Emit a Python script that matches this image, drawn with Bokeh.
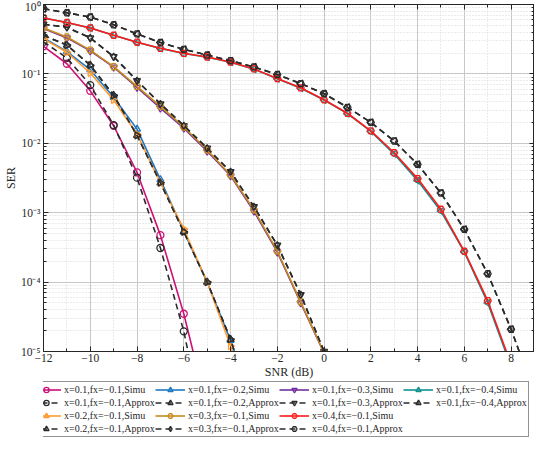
import numpy as np
from bokeh.plotting import figure
from bokeh.layouts import column
from bokeh.models import (Legend, LegendItem, LinearAxis, LogAxis, FixedTicker, Range1d)
from bokeh.embed import file_html
from bokeh.resources import INLINE

# ---------------- data ----------------
snr_g1 = [-12, -11, -10, -9, -8, -7, -6, -5]
sim_x01_fx01 = [0.25, 0.14, 0.057, 0.0179, 0.0038, 4.75e-4, 3.5e-5, 1.5e-6]
app_x01_fx01 = [0.29, 0.17, 0.069, 0.0183, 0.0032, 3.1e-4, 1.95e-5, 5e-7]

snr_g2 = [-12, -11, -10, -9, -8, -7, -6, -5, -4, -3]
sim_x01_fx02 = [0.33, 0.21, 0.115, 0.046, 0.016, 0.0030, 5.4e-4, 1.0e-4, 1.45e-5, 1.5e-6]
app_x01_fx02 = [0.36, 0.26, 0.134, 0.049, 0.013, 0.0027, 5.3e-4, 1.0e-4, 1.5e-5, 1.3e-6]
sim_x02_fx01 = [0.32, 0.205, 0.103, 0.042, 0.0136, 0.0027, 5.8e-4, 1.0e-4, 1.2e-5, 1.2e-6]
app_x02_fx01 = [0.36, 0.26, 0.133, 0.049, 0.013, 0.0027, 5.3e-4, 1.0e-4, 1.5e-5, 1.3e-6]

snr_g3 = [-12, -11, -10, -9, -8, -7, -6, -5, -4, -3, -2, -1, 0, 1]
sim_x01_fx03 = [0.45, 0.33, 0.215, 0.125, 0.064, 0.032, 0.0165, 0.0077, 0.0034, 1.05e-3, 2.7e-4, 5.0e-5, 9.5e-6, 1.1e-6]
app_x01_fx03 = [0.52, 0.47, 0.33, 0.177, 0.08, 0.037, 0.018, 0.0085, 0.0039, 1.22e-3, 3.4e-4, 6.6e-5, 1.0e-5, 1.0e-6]
sim_x03_fx01 = [0.46, 0.34, 0.22, 0.127, 0.066, 0.034, 0.0172, 0.0080, 0.0035, 1.1e-3, 2.8e-4, 5.2e-5, 9.5e-6, 1.2e-6]
app_x03_fx01 = [0.52, 0.47, 0.33, 0.177, 0.08, 0.037, 0.018, 0.0085, 0.0039, 1.22e-3, 3.4e-4, 6.6e-5, 1.0e-5, 1.0e-6]

snr_g4 = [-12, -11, -10, -9, -8, -7, -6, -5, -4, -3, -2, -1, 0, 1, 2, 3, 4, 5, 6, 7, 8, 9]
sim_x01_fx04 = [0.64, 0.55, 0.46, 0.36, 0.285, 0.233, 0.197, 0.174, 0.147, 0.117, 0.085, 0.062, 0.042, 0.0268, 0.0148, 0.0070, 0.0029, 1.05e-3, 2.7e-4, 5.0e-5, 6.0e-6, 4e-7]
app_x01_fx04 = [0.87, 0.76, 0.66, 0.51, 0.378, 0.283, 0.226, 0.187, 0.155, 0.126, 0.098, 0.0725, 0.0519, 0.033, 0.020, 0.0108, 0.00497, 1.92e-3, 5.75e-4, 1.32e-4, 2.09e-5, 2.5e-6]
sim_x04_fx01 = [0.64, 0.55, 0.46, 0.36, 0.286, 0.234, 0.198, 0.175, 0.148, 0.118, 0.086, 0.063, 0.0424, 0.0271, 0.0151, 0.0073, 0.0031, 1.12e-3, 2.78e-4, 5.4e-5, 6.5e-6, 4e-7]
app_x04_fx01 = [0.87, 0.76, 0.66, 0.51, 0.378, 0.283, 0.226, 0.187, 0.155, 0.126, 0.098, 0.0725, 0.0519, 0.033, 0.020, 0.0108, 0.00497, 1.92e-3, 5.75e-4, 1.32e-4, 2.09e-5, 2.5e-6]

x_ticks = [-12, -10, -8, -6, -4, -2, 0, 2, 4, 6, 8]
x_tick_labels = ["−12", "−10", "−8", "−6", "−4", "−2", "0", "2", "4", "6", "8"]
y_ticks = [1e-5, 1e-4, 1e-3, 1e-2, 1e-1, 1.0]
y_tick_labels = ["10⁻⁵", "10⁻⁴", "10⁻³", "10⁻²", "10⁻¹", "10⁰"]

FONT = "Liberation Serif"
APPROX_COLOR = "#2b2b2b"
C1 = "#CC1177"
C2 = "#1F78C4"
C3 = "#7030A0"
C4 = "#119290"
C5 = "#FF9A30"
C6 = "#C88A1E"
C7 = "#FF1A1A"

p = figure(width=534, height=381, y_axis_type="log",
           x_range=Range1d(-12, 9), y_range=Range1d(1e-5, 1),
           output_backend="svg", toolbar_location=None,
           min_border_left=0, min_border_right=0, min_border_top=4, min_border_bottom=0)
p.background_fill_color = "white"
p.border_fill_color = "white"
p.outline_line_color = "#262626"
p.outline_line_width = 1

xt = FixedTicker(ticks=x_ticks, minor_ticks=list(range(-11, 10, 2)))
minor_y = [k * 10.0 ** n for n in range(-5, 0) for k in range(2, 10)]
yt = FixedTicker(ticks=y_ticks, minor_ticks=minor_y)
p.xaxis.ticker = xt
p.yaxis.ticker = yt
p.xgrid.ticker = xt
p.ygrid.ticker = yt
p.xaxis.major_label_overrides = dict(zip(x_ticks, x_tick_labels))
p.yaxis.major_label_overrides = dict(zip(y_ticks, y_tick_labels))

for g in (p.xgrid, p.ygrid):
    g.grid_line_color = "#c8c8c8"
    g.grid_line_width = 1
    g.minor_grid_line_color = "#d6d6d6"
    g.minor_grid_line_dash = "1 2"
    g.minor_grid_line_width = 1

for ax in (p.xaxis[0], p.yaxis[0]):
    ax.axis_line_color = "#262626"
    ax.major_tick_line_color = "#262626"
    ax.minor_tick_line_color = "#262626"
    ax.major_tick_in = 5
    ax.major_tick_out = 0
    ax.minor_tick_in = 3
    ax.minor_tick_out = 0
    ax.major_label_text_font = FONT
    ax.major_label_text_font_size = "11.5px"
    ax.major_label_text_color = "#262626"
    ax.axis_label_text_font = FONT
    ax.axis_label_text_font_size = "12px"
    ax.axis_label_text_font_style = "normal"
    ax.axis_label_text_color = "#262626"
    ax.axis_label_standoff = 0
    ax.major_label_standoff = 3

p.xaxis.axis_label = "SNR (dB)"
p.yaxis.axis_label = "SER"
p.xaxis.major_label_standoff = 2

top_axis = LinearAxis(ticker=xt, major_label_overrides={t: "" for t in x_ticks},
                      major_label_standoff=3,
                      major_tick_in=5, major_tick_out=0, minor_tick_in=3, minor_tick_out=0,
                      axis_line_color="#262626", major_tick_line_color="#262626",
                      minor_tick_line_color="#262626")
right_axis = LogAxis(ticker=yt, major_label_overrides={t: "" for t in y_ticks},
                     major_label_standoff=0,
                     major_tick_in=5, major_tick_out=0, minor_tick_in=3, minor_tick_out=0,
                     axis_line_color="#262626", major_tick_line_color="#262626",
                     minor_tick_line_color="#262626")
p.add_layout(top_axis, "above")
p.add_layout(right_axis, "right")

# legend holder figure (its glyphs lie outside its visible range)
q = figure(width=534, height=56, x_range=Range1d(100, 101), y_range=Range1d(100, 101),
           output_backend="svg", toolbar_location=None,
           x_axis_location=None, y_axis_location=None,
           min_border_left=0, min_border_right=0, min_border_top=0, min_border_bottom=0)
q.grid.visible = False
q.outline_line_color = None


def series(fig, xs, ys, color, marker, angle=0.0, dashed=False):
    lw = 1.6
    if dashed:
        r1 = fig.line(xs, ys, line_color=color, line_width=lw, line_dash="6 4")
    else:
        r1 = fig.line(xs, ys, line_color=color, line_width=lw)
    r2 = fig.scatter(xs, ys, marker=marker, angle=angle, size=7, fill_color=None,
                     line_color=color, line_width=1.3)
    return [r1, r2]


specs = [
    ("x=0.1,fx=−0.1,Simu", snr_g1, sim_x01_fx01, C1, "circle", 0.0, False),
    ("x=0.1,fx=−0.1,Approx", snr_g1, app_x01_fx01, APPROX_COLOR, "circle", 0.0, True),
    ("x=0.1,fx=−0.2,Simu", snr_g2, sim_x01_fx02, C2, "triangle", 0.0, False),
    ("x=0.1,fx=−0.2,Approx", snr_g2, app_x01_fx02, APPROX_COLOR, "triangle", 0.0, True),
    ("x=0.1,fx=−0.3,Simu", snr_g3, sim_x01_fx03, C3, "inverted_triangle", 0.0, False),
    ("x=0.1,fx=−0.3,Approx", snr_g3, app_x01_fx03, APPROX_COLOR, "inverted_triangle", 0.0, True),
    ("x=0.1,fx=−0.4,Simu", snr_g4, sim_x01_fx04, C4, "triangle", np.pi / 2, False),
    ("x=0.1,fx=−0.4,Approx", snr_g4, app_x01_fx04, APPROX_COLOR, "triangle", np.pi / 2, True),
    ("x=0.2,fx=−0.1,Simu", snr_g2, sim_x02_fx01, C5, "triangle", -np.pi / 2, False),
    ("x=0.2,fx=−0.1,Approx", snr_g2, app_x02_fx01, APPROX_COLOR, "triangle", -np.pi / 2, True),
    ("x=0.3,fx=−0.1,Simu", snr_g3, sim_x03_fx01, C6, "hex", 0.0, False),
    ("x=0.3,fx=−0.1,Approx", snr_g3, app_x03_fx01, APPROX_COLOR, "diamond", 0.0, True),
    ("x=0.4,fx=−0.1,Simu", snr_g4, sim_x04_fx01, C7, "hex", 0.0, False),
    ("x=0.4,fx=−0.1,Approx", snr_g4, app_x04_fx01, APPROX_COLOR, "hex", 0.0, True),
]

legend_renderers = {}
for label, xs, ys, color, marker, angle, dashed in specs:
    series(p, xs, ys, color, marker, angle, dashed)
    legend_renderers[label] = series(q, xs, ys, color, marker, angle, dashed)

# column-major order: 4 rows per column
legend_order = [
    "x=0.1,fx=−0.1,Simu", "x=0.1,fx=−0.1,Approx", "x=0.2,fx=−0.1,Simu", "x=0.2,fx=−0.1,Approx",
    "x=0.1,fx=−0.2,Simu", "x=0.1,fx=−0.2,Approx", "x=0.3,fx=−0.1,Simu", "x=0.3,fx=−0.1,Approx",
    "x=0.1,fx=−0.3,Simu", "x=0.1,fx=−0.3,Approx", "x=0.4,fx=−0.1,Simu", "x=0.4,fx=−0.1,Approx",
    "x=0.1,fx=−0.4,Simu", "x=0.1,fx=−0.4,Approx",
]
items = [LegendItem(label=lab, renderers=legend_renderers[lab]) for lab in legend_order]
legend = Legend(items=items, orientation="vertical", ncols=4, location=(-14, 0),
                label_text_font=FONT, label_text_font_size="10px", label_text_color="#262626",
                glyph_width=30, glyph_height=13, label_height=13, label_width=91,
                label_standoff=3, spacing=0, padding=1, margin=0,
                border_line_color="#262626", border_line_width=1,
                background_fill_color="white", background_fill_alpha=1)
q.add_layout(legend, "center")

layout = column(p, q, spacing=0)
open("out.html", "w").write(file_html(layout, INLINE))
